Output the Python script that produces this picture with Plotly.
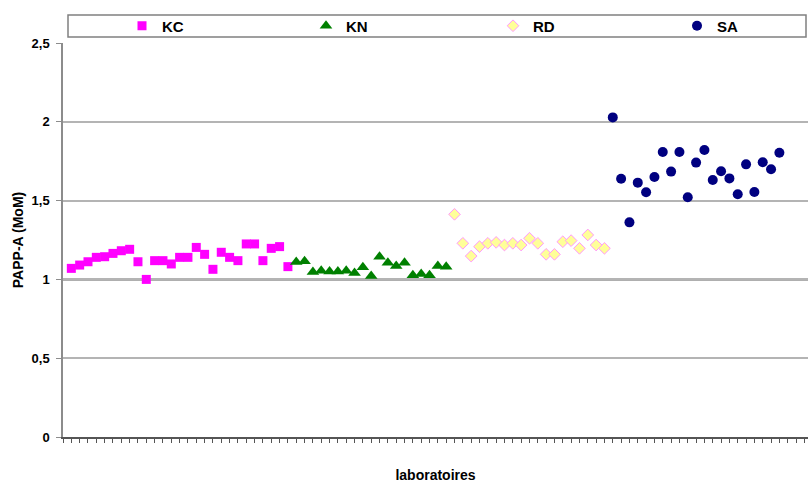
import numpy as np
import plotly.graph_objects as go

kc = [1.070, 1.091, 1.112, 1.140, 1.144, 1.165, 1.182, 1.191, 1.112, 1.000,
      1.119, 1.119, 1.098, 1.140, 1.140, 1.203, 1.159, 1.064, 1.172, 1.140,
      1.119, 1.225, 1.225, 1.119, 1.197, 1.208, 1.081]
kn = [1.110, 1.115, 1.047, 1.055, 1.050, 1.050, 1.055, 1.040, 1.077, 1.022,
      1.144, 1.106, 1.085, 1.106, 1.026, 1.034, 1.026, 1.085, 1.080]
rd = [1.413, 1.229, 1.148, 1.208, 1.229, 1.235, 1.218, 1.229, 1.218, 1.261,
      1.229, 1.159, 1.159, 1.239, 1.246, 1.197, 1.282, 1.218, 1.197]
sa = [2.028, 1.639, 1.362, 1.614, 1.553, 1.650, 1.808, 1.684, 1.808, 1.521,
      1.741, 1.821, 1.631, 1.686, 1.641, 1.540, 1.730, 1.555, 1.743, 1.699,
      1.804]

series_names = ["KC", "KN", "RD", "SA"]
y_ticks = [0, 0.5, 1, 1.5, 2, 2.5]

series = [kc, kn, rd, sa]
styles = [
    dict(symbol="square", size=9, color="#FF00FF"),
    dict(symbol="triangle-up", size=11, color="#008000"),
    dict(symbol="diamond", size=9, color="#FFFF99", line=dict(color="#FF99FF", width=1)),
    dict(symbol="circle", size=10, color="#000080"),
]

W, H = 808, 483
ml, mr, mt, mb = 63, 0, 43, 46
pw = W - ml - mr
ph = H - mt - mb

def px_x(p):
    return (p - ml) / pw

def px_y(p):
    return 1 - (p - mt) / ph

legend_ids = ["legend", "legend2", "legend3", "legend4"]
legend_px = [122, 306, 493, 677]

fig = go.Figure()
start = 1
for name, vals, st, lid in zip(series_names, series, styles, legend_ids):
    xs = np.arange(start, start + len(vals))
    start += len(vals)
    fig.add_trace(go.Scatter(x=xs, y=vals, mode="markers", name=name, marker=st, legend=lid))

BOLD = dict(family="Liberation Sans, Arial", color="#000000", weight="bold")

legend_layout = {}
for lid, lx in zip(legend_ids, legend_px):
    legend_layout[lid] = dict(
        orientation="h", x=px_x(lx), xanchor="left", y=px_y(26), yanchor="middle",
        bgcolor="rgba(0,0,0,0)", borderwidth=0,
        font=dict(size=15, **BOLD), itemclick=False, itemdoubleclick=False,
    )

fig.update_layout(
    width=W, height=H,
    margin=dict(l=ml, r=mr, t=mt, b=mb, autoexpand=False),
    paper_bgcolor="white", plot_bgcolor="white",
    font=dict(size=13, **BOLD),
    showlegend=True,
    xaxis=dict(
        range=[0, (W - ml) / 8.33], showgrid=False, zeroline=False,
        showline=True, linecolor="#555555", linewidth=2,
        ticks="outside", tickcolor="#555555", ticklen=4, tickwidth=1,
        tick0=0, dtick=1, showticklabels=False,
        title=dict(text="laboratoires", standoff=29, font=dict(size=14, **BOLD)),
    ),
    yaxis=dict(
        range=[0, 2.5], tickvals=y_ticks, showgrid=True, gridcolor="#B4B4B4", gridwidth=2,
        zeroline=False, showline=True, linecolor="#8C8C8C", linewidth=1.5,
        ticks="outside", tickcolor="#8C8C8C", ticklen=5, ticklabelstandoff=4,
        tickfont=dict(size=13, **BOLD),
        title=dict(text="PAPP-A (MoM)", standoff=5, font=dict(size=14, **BOLD)),
    ),
    separators=", ",
    **legend_layout,
)

# darker reference line at MoM = 1
fig.add_shape(type="line", xref="paper", yref="y", x0=0, x1=1, y0=1, y1=1,
              line=dict(color="#606060", width=2), layer="below")

# legend frame
fig.add_shape(type="rect", xref="paper", yref="paper",
              x0=px_x(68), x1=px_x(806), y0=px_y(37), y1=px_y(15),
              line=dict(color="#808080", width=1.5), fillcolor="rgba(0,0,0,0)")

fig.write_html("out.html", config={"displayModeBar": False},
               post_script="document.body.style.margin='0';document.body.style.overflow='hidden';")
